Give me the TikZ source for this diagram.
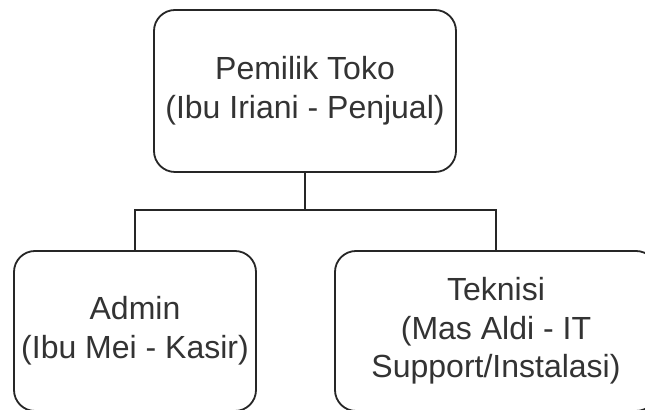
\documentclass[tikz,border=0pt]{standalone}
\usepackage{fontspec}
\setmainfont{Liberation Sans}
\begin{document}
\begin{tikzpicture}[x=0.5pt,y=-0.5pt,
  orgbox/.style={draw=black!85, line width=0.9pt, rounded corners=10.5pt, fill=white,
    align=center, text=black!80, inner sep=0pt,
    font=\fontsize{16}{19.3}\selectfont},
  link/.style={draw=black!85, line width=0.9pt}]
\useasboundingbox[fill=white] (0,0) rectangle (645,410);
\clip (0,0) rectangle (645,410);
\node[orgbox, minimum width=151pt, minimum height=81pt] (owner) at (305,91)
  {Pemilik Toko\\(Ibu Iriani - Penjual)};
\node[orgbox, minimum width=121pt, minimum height=80pt] (admin) at (135,331)
  {Admin\\(Ibu Mei - Kasir)};
\node[orgbox, minimum width=161pt, minimum height=80pt] (tech) at (496,331)
  {Teknisi\\(Mas Aldi - IT\\Support/Instalasi)};
\coordinate (junc) at (305,210);
\draw[link] (owner.south) -- (junc);
\draw[link] (junc) -| (admin.north);
\draw[link] (junc) -| (tech.north);
\end{tikzpicture}
\end{document}
